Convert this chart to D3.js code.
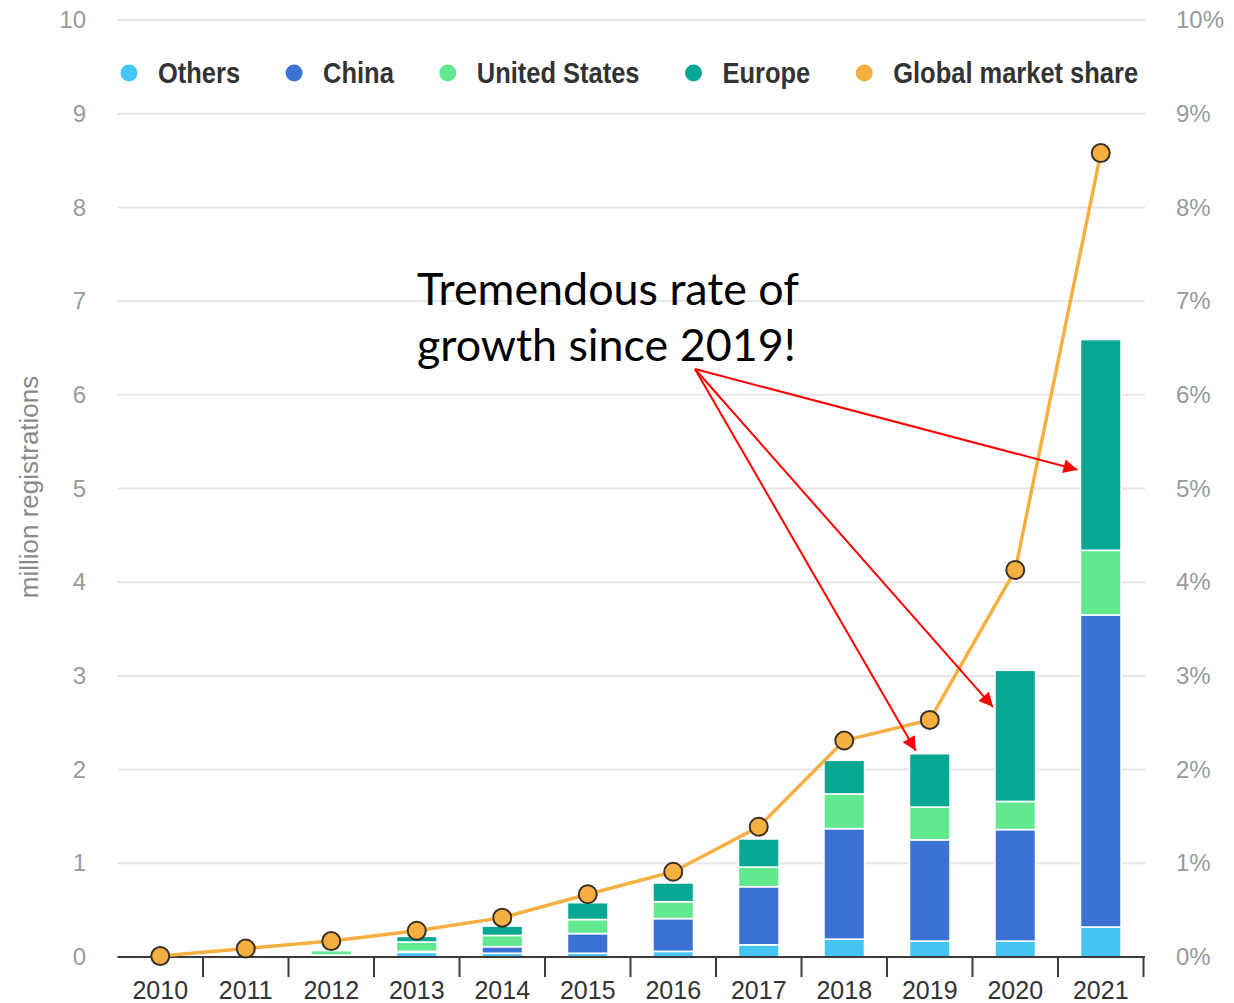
<!DOCTYPE html>
<html>
<head>
<meta charset="utf-8">
<script src="https://cdn.jsdelivr.net/npm/d3@7/dist/d3.min.js"></script>
<style>
  html, body { margin: 0; padding: 0; background: #fff; }
  svg { display: block; }
</style>
</head>
<body>
<svg id="chart" width="1234" height="1003"></svg>
<script>
// Electric car registrations by region (million) and global market share (%)
const years = ["2010", "2011", "2012", "2013", "2014", "2015", "2016", "2017", "2018", "2019", "2020", "2021"];
const others       = [0.00, 0.00, 0.01, 0.05, 0.04, 0.04, 0.06, 0.13, 0.19, 0.17, 0.17, 0.32];
const china        = [0.00, 0.01, 0.01, 0.01, 0.07, 0.21, 0.35, 0.62, 1.18, 1.08, 1.19, 3.33];
const unitedStates = [0.00, 0.01, 0.05, 0.10, 0.12, 0.15, 0.18, 0.21, 0.37, 0.35, 0.30, 0.69];
const europe       = [0.00, 0.01, 0.01, 0.06, 0.10, 0.18, 0.20, 0.30, 0.36, 0.57, 1.40, 2.25];
const marketShare  = [0.01, 0.09, 0.17, 0.28, 0.42, 0.67, 0.91, 1.39, 2.31, 2.53, 4.13, 8.58];

const leftTicks  = [0, 1, 2, 3, 4, 5, 6, 7, 8, 9, 10];
const rightTicks = [0, 1, 2, 3, 4, 5, 6, 7, 8, 9, 10];

const seriesKeys   = ["Others", "China", "United States", "Europe"];
const legendLabels = ["Others", "China", "United States", "Europe", "Global market share"];
const colors = {
  "Others": "#45c5f3",
  "China": "#3b72d3",
  "United States": "#62e98f",
  "Europe": "#07a794",
  "Global market share": "#f5b041"
};

const rows = years.map((y, i) => ({
  year: y,
  "Others": others[i],
  "China": china[i],
  "United States": unitedStates[i],
  "Europe": europe[i],
  share: marketShare[i]
}));

const svg = d3.select("#chart");
const W = 1234, H = 1003;
svg.append("rect").attr("width", W).attr("height", H).attr("fill", "#fff");

const x = d3.scaleBand().domain(years).range([117.5, 1143.5]).paddingInner(0.525).paddingOuter(0.2625);
const y = d3.scaleLinear().domain([0, 10]).range([957, 20]);
const yR = d3.scaleLinear().domain([0, 10]).range([957, 20]);

// horizontal gridlines
svg.append("g")
  .selectAll("line")
  .data(leftTicks.filter(t => t > 0))
  .join("line")
  .attr("x1", 117.5).attr("x2", 1145)
  .attr("y1", d => y(d)).attr("y2", d => y(d))
  .attr("stroke", "#e6e6e6").attr("stroke-width", 2);

// left axis labels
const leftAxis = d3.axisLeft(y).tickValues(leftTicks).tickSize(0).tickPadding(0).tickFormat(d3.format("d"));
const gl = svg.append("g").attr("transform", "translate(86,0)").call(leftAxis);
gl.select(".domain").remove();
gl.selectAll("text")
  .attr("fill", "#9a9a9a").attr("font-family", "Liberation Sans, Arial, sans-serif").attr("font-size", 24);

// right axis labels
const rightAxis = d3.axisRight(yR).tickValues(rightTicks).tickSize(0).tickPadding(0).tickFormat(d => d + "%");
const gr = svg.append("g").attr("transform", "translate(1176,0)").call(rightAxis);
gr.select(".domain").remove();
gr.selectAll("text")
  .attr("fill", "#9a9a9a").attr("font-family", "Liberation Sans, Arial, sans-serif").attr("font-size", 24);

// left axis title
svg.append("text")
  .attr("transform", `translate(38,${487}) rotate(-90)`)
  .attr("text-anchor", "middle")
  .attr("fill", "#8a8a8a")
  .attr("font-family", "Liberation Sans, Arial, sans-serif")
  .attr("font-size", 26)
  .text("million registrations");

// stacked bars
const stacked = d3.stack().keys(seriesKeys)(rows);
svg.append("g")
  .selectAll("g")
  .data(stacked)
  .join("g")
  .attr("fill", d => colors[d.key])
  .selectAll("rect")
  .data(d => d)
  .join("rect")
  .attr("x", d => x(d.data.year))
  .attr("width", x.bandwidth())
  .attr("y", d => y(d[1]))
  .attr("height", d => Math.max(0, y(d[0]) - y(d[1])))
  .attr("stroke", "#fff")
  .attr("stroke-width", 1.6);

// bottom axis: baseline, separators between years, year labels
const gx = svg.append("g");
gx.append("line")
  .attr("x1", 117.5).attr("x2", 1145)
  .attr("y1", y(0)).attr("y2", y(0))
  .attr("stroke", "#3a3a3a").attr("stroke-width", 2);
gx.selectAll("line.sep")
  .data(years)
  .join("line")
  .attr("class", "sep")
  .attr("x1", d => x(d) - x.paddingOuter() * x.step() + x.step())
  .attr("x2", d => x(d) - x.paddingOuter() * x.step() + x.step())
  .attr("y1", y(0)).attr("y2", y(0) + 20)
  .attr("stroke", "#3a3a3a").attr("stroke-width", 2);
gx.selectAll("text")
  .data(years)
  .join("text")
  .attr("x", d => x(d) + x.bandwidth() / 2)
  .attr("y", 999)
  .attr("text-anchor", "middle")
  .attr("fill", "#333")
  .attr("font-family", "Liberation Sans, Arial, sans-serif")
  .attr("font-size", 25)
  .text(d => d);

// market share line with markers
const cx = d => x(d.year) + x.bandwidth() / 2;
svg.append("path")
  .datum(rows)
  .attr("fill", "none")
  .attr("stroke", colors["Global market share"])
  .attr("stroke-width", 3.5)
  .attr("d", d3.line().x(cx).y(d => yR(d.share)));
svg.append("g")
  .selectAll("circle")
  .data(rows)
  .join("circle")
  .attr("cx", cx)
  .attr("cy", d => yR(d.share))
  .attr("r", 9)
  .attr("fill", colors["Global market share"])
  .attr("stroke", "#3a3024")
  .attr("stroke-width", 2);

// legend (condensed bold labels)
const legend = svg.append("g").attr("transform", "translate(0,73)");
const condense = 0.878;
let lx = 129;
legendLabels.forEach(name => {
  legend.append("circle").attr("cx", lx).attr("cy", 0).attr("r", 8.5).attr("fill", colors[name]);
  const t = legend.append("text")
    .attr("x", lx + 29).attr("y", 0).attr("dy", "0.36em")
    .attr("fill", "#333")
    .attr("font-family", "Liberation Sans, Arial, sans-serif")
    .attr("font-weight", "bold")
    .attr("font-size", 29)
    .text(name);
  const w = t.node().getComputedTextLength() * condense;
  t.attr("textLength", w).attr("lengthAdjust", "spacingAndGlyphs");
  lx += 29 + w + 54;
});

// annotation text
const note = svg.append("text")
  .attr("font-family", "Lato, Carlito, Calibri, sans-serif")
  .attr("font-size", 44.8)
  .attr("fill", "#000");
note.append("tspan").attr("x", 417).attr("y", 305).text("Tremendous rate of");
note.append("tspan").attr("x", 417).attr("y", 361).text("growth since 2019!");

// arrows from the annotation to the latest bars
svg.append("defs").append("marker")
  .attr("id", "head")
  .attr("viewBox", "0 0 10 10")
  .attr("refX", 10).attr("refY", 5)
  .attr("markerWidth", 9).attr("markerHeight", 7)
  .attr("markerUnits", "strokeWidth")
  .attr("orient", "auto")
  .append("path").attr("d", "M0,0 L10,5 L0,10 Z").attr("fill", "#ff0000");

const origin = [695, 369];
const targets = [
  { year: "2021", value: 5.2, at: "left", dx: -3 },
  { year: "2020", value: 2.67, at: "left", dx: -2 },
  { year: "2019", value: 2.2, at: "mid", dx: -14 }
];
svg.append("g")
  .selectAll("line")
  .data(targets)
  .join("line")
  .attr("x1", origin[0]).attr("y1", origin[1])
  .attr("x2", d => (d.at === "left" ? x(d.year) : x(d.year) + x.bandwidth() / 2) + d.dx)
  .attr("y2", d => y(d.value))
  .attr("stroke", "#ff0000")
  .attr("stroke-width", 2)
  .attr("marker-end", "url(#head)");
</script>
</body>
</html>
